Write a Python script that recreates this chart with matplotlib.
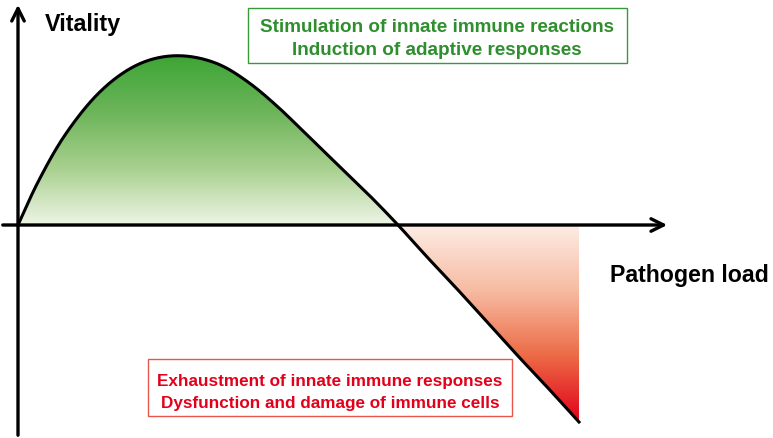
import numpy as np
import matplotlib.pyplot as plt
from matplotlib.colors import LinearSegmentedColormap
from matplotlib.patches import Rectangle

# curve: pathogen load vs vitality
load = [0, 20, 45, 75, 105, 135, 167, 200, 230, 260, 290, 320, 350, 380,
        410, 440, 470, 500, 530, 561]
vitality = [0, 43, 87, 126, 152, 166, 169, 161, 143, 118, 89, 60, 31, 0,
            -33, -65, -98, -131, -163, -197]

green_text = ['Stimulation of innate immune reactions', 'Induction of adaptive responses']
red_text = ['Exhaustment of innate immune responses', 'Dysfunction and damage of immune cells']

plt.rcParams['font.family'] = ['Liberation Sans', 'DejaVu Sans']


def catmull_rom(px, py, n=40):
    """ smooth curve through the points (uniform catmull-rom) """
    p = np.column_stack([px, py]).astype(float)
    p = np.vstack([2 * p[0] - p[1], p, 2 * p[-1] - p[-2]])
    out = []
    t = np.linspace(0, 1, n, endpoint=False)[:, None]
    for i in range(1, len(p) - 2):
        p0, p1, p2, p3 = p[i - 1], p[i], p[i + 1], p[i + 2]
        seg = 0.5 * ((2 * p1) + (-p0 + p2) * t
                     + (2 * p0 - 5 * p1 + 4 * p2 - p3) * t ** 2
                     + (-p0 + 3 * p1 - 3 * p2 + p3) * t ** 3)
        out.append(seg)
    out.append(p[-2][None, :])
    out = np.vstack(out)
    return out[:, 0], out[:, 1]


fig = plt.figure(figsize=(7.73, 4.39), dpi=100)
ax = fig.add_axes([0, 0, 1, 1])
ax.set_xlim(-18, 755)
ax.set_ylim(-213, 226)
ax.axis('off')

xs, ys = catmull_rom(load, vitality)
zero_x = load[vitality.index(0, 1)]

green_cmap = LinearSegmentedColormap.from_list(
    'g', ['#eef5e6', '#a9d08f', '#6db55a', '#3da535'])
red_cmap = LinearSegmentedColormap.from_list(
    'r', ['#fdece4', '#f7bba2', '#ec6a45', '#e2001a'])
grad = np.linspace(0, 1, 256).reshape(-1, 1)

# green area above the axis
pos = xs <= zero_x
poly_g = ax.fill_between(xs[pos], 0, ys[pos], facecolor='none', edgecolor='none')
im = ax.imshow(grad, cmap=green_cmap, aspect='auto', origin='lower',
               extent=[0, zero_x, 0, max(vitality)], zorder=1)
im.set_clip_path(poly_g.get_paths()[0], transform=ax.transData)

# red area below the axis
neg = xs >= zero_x
poly_r = ax.fill_between(xs[neg], 0, ys[neg], facecolor='none', edgecolor='none')
im2 = ax.imshow(grad[::-1], cmap=red_cmap, aspect='auto', origin='lower',
                extent=[zero_x, load[-1], min(vitality), 0], zorder=1)
im2.set_clip_path(poly_r.get_paths()[0], transform=ax.transData)

ax.plot(xs, ys, color='black', lw=2.2, zorder=3)

# axes with arrows
head = '->,head_length=0.9,head_width=0.45'
ax.annotate('', xy=(652, 0), xytext=(-18, 0),
            arrowprops=dict(arrowstyle=head, lw=2.4, color='black'), zorder=4)
ax.annotate('', xy=(0, 223), xytext=(0, -213),
            arrowprops=dict(arrowstyle=head, lw=2.4, color='black'), zorder=4)

ax.text(27, 195, 'Vitality', fontsize=16.8, fontweight='bold', va='baseline', ha='left')
ax.text(592, -56, 'Pathogen load', fontsize=16.7, fontweight='bold', va='baseline', ha='left')

# green box
ax.add_patch(Rectangle((230, 162), 379, 55, facecolor='white',
                       edgecolor='#3a9a3a', lw=1, zorder=5))
for txt, yy in zip(green_text, [194, 171]):
    ax.text(419, yy, txt, fontsize=13.6, fontweight='bold', color='#2f8f2f',
            ha='center', va='baseline', zorder=6)

# red box
ax.add_patch(Rectangle((130, -191), 364, 57, facecolor='white',
                       edgecolor='#e8584a', lw=1, zorder=5))
for txt, yy in zip(red_text, [-160, -182]):
    ax.text(312, yy, txt, fontsize=12.3, fontweight='bold', color='#e3001b',
            ha='center', va='baseline', zorder=6)

fig.savefig('out.png', dpi=100)
